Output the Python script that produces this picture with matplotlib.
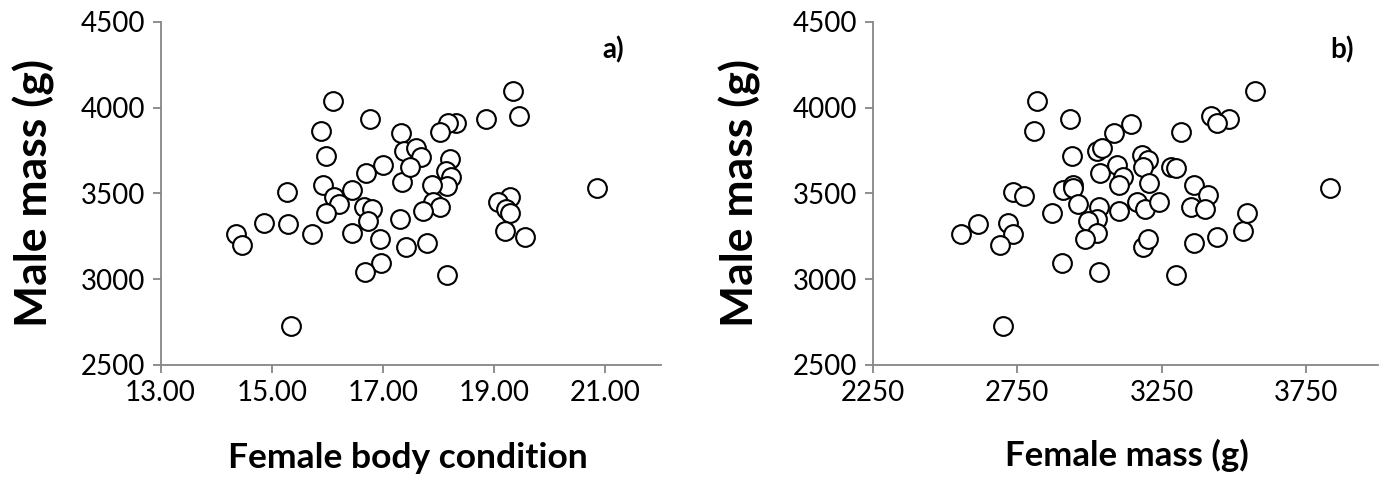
import matplotlib
matplotlib.use("Agg")
import matplotlib.pyplot as plt
from matplotlib.ticker import FormatStrFormatter

plt.rcParams['font.family'] = ['Lato', 'DejaVu Sans']

# Panel a: female body condition vs male mass
cond_x = [16.11, 16.76, 15.88, 15.97, 17.00, 16.70, 15.28, 15.92, 16.45, 17.33,
          17.37, 17.35, 19.34, 19.45, 18.85, 18.31, 18.17, 18.03, 17.60, 17.69,
          17.48, 18.20, 18.13, 18.23, 18.15, 17.89, 20.85, 16.12, 16.21, 15.97,
          16.65, 16.81, 16.73, 16.94, 16.97, 16.67, 14.35, 14.47, 14.86, 15.29,
          15.72, 16.44, 15.34, 19.28, 19.07, 19.22, 19.29, 19.20, 19.56, 17.90,
          18.02, 17.72, 17.31, 17.42, 17.79, 18.15]
cond_y = [4040, 3932, 3863, 3719, 3665, 3620, 3505, 3547, 3520, 3852,
          3747, 3565, 4099, 3951, 3932, 3908, 3912, 3859, 3762, 3713,
          3651, 3698, 3632, 3597, 3545, 3548, 3529, 3476, 3437, 3387,
          3418, 3407, 3340, 3233, 3092, 3039, 3261, 3198, 3328, 3319,
          3261, 3270, 2727, 3480, 3451, 3408, 3387, 3282, 3247, 3451,
          3422, 3398, 3348, 3188, 3208, 3023]

# Panel b: female mass vs male mass
fmass_x = [2819, 2932, 2809, 2938, 3025, 3044, 3036, 2736, 2773, 2907,
           2944, 2944, 3573, 3832, 3419, 3484, 3442, 3316, 3142, 3085,
           3180, 3201, 3184, 3094, 3117, 3103, 3207, 3281, 3301, 3361,
           3411, 2555, 2615, 2719, 2734, 2690, 2699, 2872, 2961, 3034,
           3027, 2994, 3025, 2984, 2904, 3034, 3103, 3165, 3192, 3241,
           3186, 3201, 3350, 3399, 3361, 3440, 3530, 3544, 3301]
fmass_y = [4040, 3932, 3863, 3719, 3747, 3762, 3620, 3509, 3486, 3519,
           3548, 3529, 4099, 3529, 3951, 3932, 3908, 3859, 3902, 3852,
           3723, 3694, 3654, 3665, 3595, 3548, 3563, 3655, 3649, 3548,
           3490, 3261, 3319, 3328, 3261, 3198, 2727, 3387, 3436, 3418,
           3348, 3340, 3267, 3232, 3092, 3039, 3398, 3451, 3407, 3451,
           3185, 3233, 3422, 3408, 3208, 3247, 3282, 3387, 3023]

y_ticks = [2500, 3000, 3500, 4000, 4500]
cond_ticks = [13, 15, 17, 19, 21]
fmass_ticks = [2250, 2750, 3250, 3750]

axis_grey = '#868686'

fig = plt.figure(figsize=(13.84, 4.93), dpi=100)
ax1 = fig.add_axes([0.116, 0.2602, 0.3616, 0.6952])
ax2 = fig.add_axes([0.6306, 0.2602, 0.3654, 0.6952])


def style(ax):
    for side in ['top', 'right']:
        ax.spines[side].set_visible(False)
    for side in ['left', 'bottom']:
        ax.spines[side].set_color(axis_grey)
        ax.spines[side].set_linewidth(1.3)
    ax.tick_params(direction='out', length=6, width=1.3, color=axis_grey,
                   labelsize=20, labelcolor='black', pad=5)
    ax.set_ylim(2500, 4500)
    ax.set_yticks(y_ticks)


ax1.plot(cond_x, cond_y, 'o', ms=13.5, mfc='white', mec='black', mew=1.5,
         clip_on=False)
style(ax1)
ax1.set_xlim(13, 22)
ax1.set_xticks(cond_ticks)
ax1.xaxis.set_major_formatter(FormatStrFormatter('%.2f'))
ax1.set_ylabel('Male mass (g)', fontsize=32, fontweight='bold')
ax1.yaxis.set_label_coords(-0.21, 0.5)
ax1.set_xlabel('Female body condition', fontsize=25.5, fontweight='bold')
ax1.xaxis.set_label_coords(0.494, -0.225)
ax1.text(0.905, 0.92, 'a)', transform=ax1.transAxes, fontsize=20,
         fontweight='bold', ha='center', va='center')

ax2.plot(fmass_x, fmass_y, 'o', ms=13.5, mfc='white', mec='black', mew=1.5,
         clip_on=False)
style(ax2)
ax2.set_xlim(2250, 4000)
ax2.set_xticks(fmass_ticks)
ax2.set_ylabel('Male mass (g)', fontsize=32, fontweight='bold')
ax2.yaxis.set_label_coords(-0.22, 0.5)
ax2.set_xlabel('Female mass (g)', fontsize=25, fontweight='bold')
ax2.xaxis.set_label_coords(0.503, -0.215)
ax2.text(0.927, 0.92, 'b)', transform=ax2.transAxes, fontsize=20,
         fontweight='bold', ha='center', va='center')

fig.savefig('out.png', dpi=100)
